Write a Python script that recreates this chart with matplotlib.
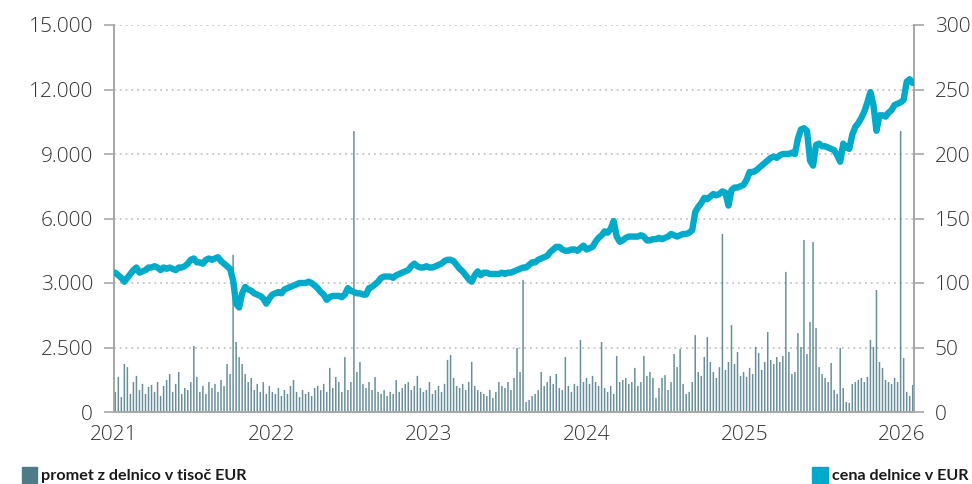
import numpy as np
import pandas as pd
import matplotlib
matplotlib.use('Agg')
import matplotlib.pyplot as plt
from matplotlib.patches import Rectangle

# [tedenski podatki, ocenjeni iz slike]
dates = pd.date_range('2021-01-04', periods=265, freq='7D')

turnover = [
    # 2021
    780, 1360, 580, 1860, 1740, 700, 1160, 1400, 850, 1090,
    700, 970, 1050, 780, 1160, 620, 1010, 1240, 1470, 780,
    1090, 1550, 700, 930, 850, 1160, 2560, 1360, 780, 1010,
    700, 1160, 930, 1090, 780, 1240, 1010, 1860, 1470, 6090,
    2710, 2130, 1860, 1470, 1160, 1320, 850, 1090, 780, 1160,
    700, 1010,
    # 2022
    780, 700, 930, 620, 850, 700, 1010, 1240, 780, 580,
    850, 700, 780, 620, 930, 1010, 850, 1090, 780, 1710,
    930, 1360, 1160, 780, 2130, 850, 1160, 10890, 1550, 1940,
    1090, 930, 1160, 850, 1360, 780, 700, 850, 620, 780,
    700, 1240, 780, 930, 1090, 1160, 850, 1010, 1400, 930,
    780, 850,
    # 2023
    1160, 700, 850, 1010, 780, 1090, 2020, 2210, 1320, 1010,
    930, 1090, 850, 1160, 1940, 1010, 850, 780, 700, 620,
    850, 540, 780, 1160, 1010, 930, 1160, 850, 1320, 2480,
    1550, 5120, 390, 470, 620, 700, 850, 1550, 1010, 1160,
    1400, 1090, 1470, 930, 850, 2130, 1010, 780, 1090, 1010,
    2790, 1160,
    # 2024
    1320, 1090, 1400, 1160, 1010, 2710, 930, 780, 1010, 700,
    2170, 1160, 1240, 1320, 1090, 1160, 1710, 1010, 1160, 2170,
    1400, 1550, 1320, 540, 930, 1320, 1430, 850, 1160, 2250,
    1740, 2440, 1090, 700, 780, 1160, 2980, 1550, 1400, 2130,
    2910, 1940, 1550, 1320, 1740, 6900, 1630, 1940, 3370, 1860,
    2330, 1400,
    # 2025 - 2026
    1550, 1360, 1710, 1470, 2520, 2290, 1630, 1940, 3100, 2020,
    1860, 2130, 1940, 2170, 5430, 2330, 1470, 1550, 3060, 2520,
    6670, 2250, 3490, 6590, 3260, 1740, 1470, 1320, 1160, 1900,
    850, 700, 2480, 930, 390, 350, 1090, 1160, 1240, 1320,
    1160, 1360, 2790, 2520, 4730, 1940, 1710, 1240, 1160, 1090,
    1320, 1160, 10890, 2090, 780, 620, 1050,
]

price = [
    # 2021
    108, 106, 104, 101, 104, 107, 110, 112, 108, 109,
    110, 112, 112, 113, 112, 110, 112, 111, 112, 111,
    110, 112, 112, 113, 115, 118, 119, 116, 116, 115,
    118, 119, 118, 119, 120, 117, 115, 113, 111, 102,
    84, 81, 92, 97, 95, 94, 92, 91, 90, 88,
    84, 88,
    # 2022
    91, 92, 93, 92, 95, 96, 97, 98, 99, 100,
    100, 100, 101, 100, 98, 96, 93, 91, 87, 89,
    90, 90, 90, 89, 91, 96, 94, 93, 92, 92,
    91, 91, 96, 97, 99, 101, 104, 105, 105, 105,
    104, 106, 107, 108, 109, 110, 113, 115, 113, 112,
    112, 113,
    # 2023
    112, 112, 113, 114, 115, 117, 118, 118, 117, 114,
    111, 109, 106, 103, 101, 106, 109, 106, 108, 108,
    107, 107, 107, 107, 108, 107, 108, 108, 109, 110,
    111, 112, 112, 114, 116, 116, 118, 119, 120, 121,
    124, 126, 128, 128, 126, 125, 125, 126, 126, 125,
    127, 129,
    # 2024
    126, 127, 128, 132, 135, 137, 140, 139, 142, 148,
    136, 132, 133, 135, 136, 136, 136, 136, 137, 136,
    133, 133, 134, 134, 135, 134, 135, 136, 138, 137,
    136, 137, 138, 138, 139, 141, 155, 159, 162, 166,
    165, 167, 169, 168, 169, 171, 170, 160, 172, 174,
    174, 175,
    # 2025 - 2026
    176, 180, 186, 186, 187, 189, 191, 193, 195, 197,
    198, 197, 199, 200, 200, 200, 201, 200, 212, 219,
    220, 218, 195, 191, 207, 208, 206, 206, 205, 204,
    203, 199, 194, 208, 205, 204, 215, 221, 224, 228,
    233, 240, 248, 238, 218, 230, 230, 229, 232, 234,
    238, 239, 240, 242, 256, 258, 255,
]

left_ticks = [0, 2500, 5000, 7500, 10000, 12500, 15000]
left_labels = ['0', '2.500', '3.000', '6.000', '9.000', '12.000', '15.000']
right_ticks = [0, 50, 100, 150, 200, 250, 300]
years = ['2021', '2022', '2023', '2024', '2025', '2026']

bar_color = '#4d7b87'
line_color = '#00aac8'
axis_color = '#a8a8a8'
text_color = '#333333'
tick_font = dict(family=['Open Sans', 'DejaVu Sans'], size=15, weight='light')

# [graf]
fig = plt.figure(figsize=(9.72, 4.84), dpi=100)
ax = fig.add_axes([114 / 972, 1 - 412 / 484, (914 - 114) / 972, (412 - 25) / 484])
ax2 = ax.twinx()

ax.bar(dates, turnover, width=3.5, color=bar_color, alpha=0.85, linewidth=0,
       snap=False, zorder=2)
ax2.plot(dates, price, color=line_color, linewidth=4.6, solid_capstyle='round',
         solid_joinstyle='round', zorder=3)

ax.set_xlim(pd.Timestamp('2021-01-01'), pd.Timestamp('2026-01-29'))
ax.set_ylim(0, 15000)
ax2.set_ylim(0, 300)

ax.set_yticks(left_ticks)
ax.set_yticklabels(left_labels, **tick_font, color=text_color)
ax2.set_yticks(right_ticks)
ax2.set_yticklabels([str(t) for t in right_ticks], **tick_font, color=text_color)

ax.set_xticks([pd.Timestamp(y + '-01-01') for y in years])
ax.set_xticklabels(years, **tick_font, color=text_color)

ax.grid(axis='y', linestyle=(0, (1, 2.2)), color='#c4c4c4', linewidth=1.3, zorder=0)
ax.set_axisbelow(True)

for a in (ax, ax2):
    a.spines['top'].set_visible(False)
    for s in ('left', 'right', 'bottom'):
        a.spines[s].set_color(axis_color)
        a.spines[s].set_linewidth(1.4)
ax.tick_params(axis='y', length=7, width=1.2, color=axis_color, pad=8)
ax2.tick_params(axis='y', length=7, width=1.2, color=axis_color, pad=8)
ax.tick_params(axis='x', length=0, pad=9)

# [legenda]
legend_font = dict(family=['Lato', 'DejaVu Sans'], size=11.6, weight='bold',
                   color='#1a1a1a', va='baseline')
fig.patches.append(Rectangle((22 / 972, 1 / 484), 15 / 972, 16 / 484,
                             transform=fig.transFigure, color=bar_color))
fig.text(41 / 972, 4 / 484, 'promet z delnico v tisoč EUR', **legend_font)

t2 = fig.text(968 / 972, 4 / 484, 'cena delnice v EUR', ha='right', **legend_font)
fig.canvas.draw()
bb = t2.get_window_extent()
fig.patches.append(Rectangle(((bb.x0 - 20) / 972, 1 / 484), 16 / 972, 16 / 484,
                             transform=fig.transFigure, color=line_color))

fig.savefig('out.png', dpi=100)
